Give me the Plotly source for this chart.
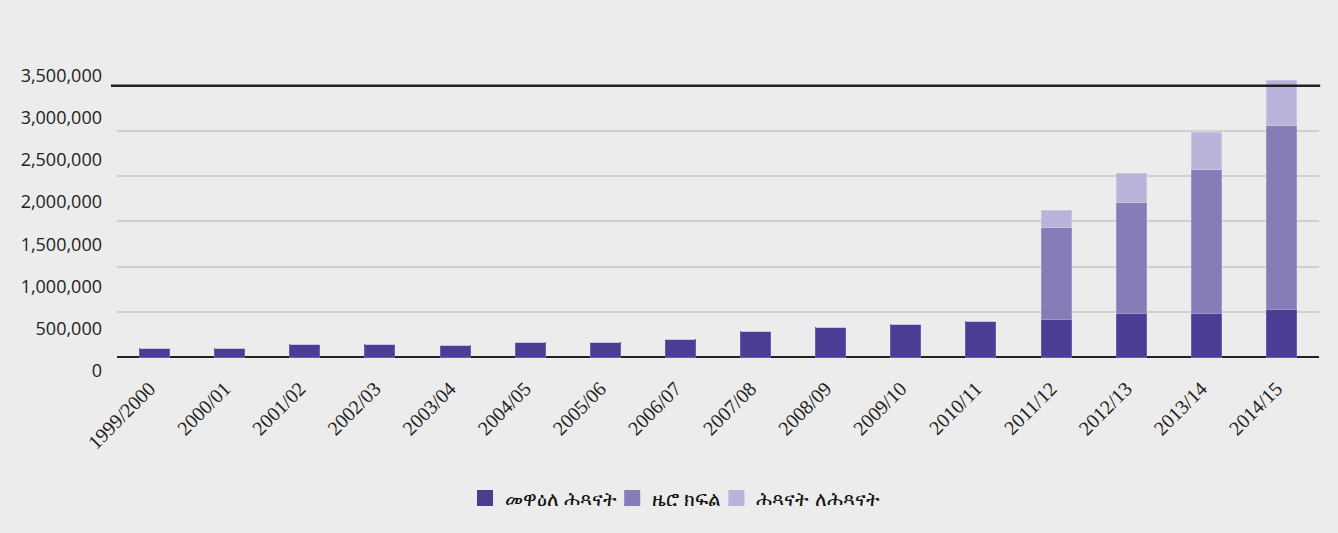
import plotly.graph_objects as go

# ---------------- data ----------------
years = ["1999/2000", "2000/01", "2001/02", "2002/03", "2003/04", "2004/05",
         "2005/06", "2006/07", "2007/08", "2008/09", "2009/10", "2010/11",
         "2011/12", "2012/13", "2013/14", "2014/15"]
kindergarten = [100000, 100000, 138000, 138000, 135000, 168000, 168000, 202000,
                287000, 325000, 362000, 396000, 420000, 489000, 489000, 530000]
zero_class = [0, 0, 0, 0, 0, 0, 0, 0, 0, 0, 0, 0,
              1016000, 1226000, 1580000, 2025000]
child_to_child = [0, 0, 0, 0, 0, 0, 0, 0, 0, 0, 0, 0,
                  180000, 317000, 419000, 497000]
series_names = ["መዋዕለ ሕጻናት", "ዜሮ ክፍል", "ሕጻናት ለሕጻናት"]
y_tick_values = [0, 500000, 1000000, 1500000, 2000000, 2500000, 3000000, 3500000]
y_tick_labels = ["0", "500,000", "1,000,000", "1,500,000", "2,000,000",
                 "2,500,000", "3,000,000", "3,500,000"]
reference_line_value = 3000000

# ---------------- style ----------------
W, H = 1338, 533
BG = "#ececec"
colors = ["#4b3c94", "#877bb8", "#b9b3d9"]
edge = ["#6a5db0", "#9e94c8", "#c9c4e3"]

# plot area (pixels)
top_px, bottom_px = 70, 372
left_px, right_px = 117, 1319

# data axis: gridlines every 500k, 0 at px 357.3, spacing 45.27 px
def data_val(p):
    return (357.3 - p) * 500000 / 45.27

# label axis: labels every 42.14 px, 0 at px 370.7
def label_val(p):
    return (370.7 - p) * 500000 / 42.14

fig = go.Figure()
for name, vals, c, e in zip(series_names, [kindergarten, zero_class, child_to_child], colors, edge):
    fig.add_trace(go.Bar(
        x=years, y=vals, name=name, showlegend=False,
        marker=dict(color=c, line=dict(color=e, width=1)),
        hoverinfo="x+y+name",
    ))

# legend entries with large square swatches
for name, c in zip(series_names, colors):
    fig.add_trace(go.Scatter(
        x=[None], y=[None], name=name, mode="markers",
        marker=dict(symbol="square", size=17, color=c),
        showlegend=True, hoverinfo="skip",
    ))

# invisible trace to carry label axis
fig.add_trace(go.Scatter(x=years[:1], y=[0], yaxis="y2", mode="markers",
                         marker=dict(opacity=0, size=1), showlegend=False,
                         hoverinfo="skip"))

fig.update_layout(
    width=W, height=H,
    paper_bgcolor=BG, plot_bgcolor=BG,
    barmode="stack", bargap=0.6,
    margin=dict(l=left_px, r=W - right_px, t=top_px, b=H - bottom_px, pad=0),
    font=dict(family="Open Sans", color="#222222"),
    xaxis=dict(
        type="category", tickangle=-45, range=[-0.5, len(years) - 0.5],
        tickfont=dict(family="Liberation Serif", size=20, color="#222222"),
        showgrid=False, showline=False, ticks="",
        ticklabelshift=-5,
    ),
    yaxis=dict(
        range=[data_val(bottom_px), data_val(top_px)],
        tickvals=[v for v in y_tick_values if v <= reference_line_value],
        showticklabels=False,
        showgrid=True, gridcolor="#d0d0d0", gridwidth=1.5,
        zeroline=True, zerolinecolor="#222222", zerolinewidth=2,
        showline=False, ticks="",
    ),
    yaxis2=dict(
        overlaying="y", side="left", anchor="x",
        range=[label_val(bottom_px), label_val(top_px)],
        tickvals=y_tick_values, ticktext=y_tick_labels,
        tickfont=dict(family="Open Sans", size=18, color="#222222"),
        showgrid=False, zeroline=False, showline=False, ticks="",
        ticklabelstandoff=14,
    ),
    legend=dict(
        orientation="h", x=680 / W, xref="container", xanchor="center",
        y=1 - 498 / H, yref="container", yanchor="middle",
        font=dict(family="Noto Sans, Open Sans", size=20, color="#111111"),
        bgcolor="rgba(0,0,0,0)", itemwidth=30, traceorder="normal",
        itemsizing="trace", indentation=-10,
    ),
    shapes=[dict(
        type="line", xref="paper", yref="y", x0=-0.005, x1=1.001,
        y0=reference_line_value, y1=reference_line_value,
        line=dict(color="#222222", width=2.5), layer="above",
    )],
    showlegend=True,
)

fig.write_html("out.html", config={"displayModeBar": False},
               post_script="document.body.style.margin='0';document.body.style.padding='0';")
